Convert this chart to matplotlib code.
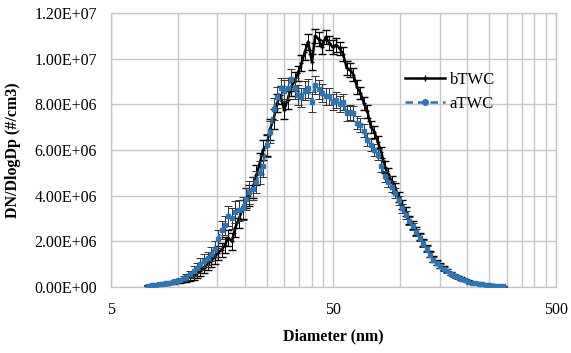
import matplotlib
matplotlib.use("Agg")
import matplotlib.pyplot as plt
from matplotlib.lines import Line2D
from matplotlib.ticker import FixedLocator, NullFormatter, FuncFormatter
import numpy as np

# particle diameters (nm), SMPS channels
diameter = [7.37, 7.64, 7.91, 8.20, 8.51, 8.82, 9.14, 9.47, 9.82, 10.2,
            10.6, 10.9, 11.3, 11.8, 12.2, 12.6, 13.1, 13.6, 14.1, 14.6,
            15.1, 15.7, 16.3, 16.8, 17.5, 18.1, 18.8, 19.5, 20.2, 20.9,
            21.7, 22.5, 23.3, 24.1, 25.0, 25.9, 26.9, 27.9, 28.9, 30.0,
            31.1, 32.2, 33.4, 34.6, 35.9, 37.2, 38.5, 40.0, 41.4, 42.9,
            44.5, 46.1, 47.8, 49.6, 51.4, 53.3, 55.2, 57.3, 59.4, 61.5,
            63.8, 66.1, 68.5, 71.0, 73.7, 76.4, 79.1, 82.0, 85.1, 88.2,
            91.4, 94.7, 98.2, 101.8, 105.5, 109.4, 113.4, 117.6, 121.9, 126.3,
            131.0, 135.8, 140.7, 145.9, 151.2, 156.8, 162.5, 168.5, 174.7, 181.1,
            187.7, 194.6, 201.7, 209.1, 216.7, 224.7, 232.9, 241.4, 250.3, 259.5,
            269.0, 278.8, 289.0]

# dN/dlogDp in units of 1e6 #/cm3
btwc = [0.05, 0.07, 0.09, 0.11, 0.13, 0.15, 0.17, 0.20, 0.23, 0.27,
        0.31, 0.36, 0.42, 0.48, 0.60, 0.72, 0.85, 1.00, 1.15, 1.30,
        1.50, 1.62, 1.85, 2.15, 2.00, 2.60, 3.00, 3.40, 3.90, 4.00,
        4.35, 4.90, 5.40, 6.00, 6.20, 6.90, 7.35, 8.05, 8.40, 7.75,
        8.20, 8.75, 9.00, 9.35, 9.80, 10.30, 10.75, 9.85, 11.00, 10.85,
        10.50, 10.95, 10.70, 10.50, 10.60, 10.45, 10.20, 9.60, 9.50, 9.30,
        8.75, 8.50, 8.05, 7.70, 7.00, 6.80, 6.35, 5.90, 5.25, 4.95,
        4.60, 4.35, 3.95, 3.60, 3.30, 2.95, 2.70, 2.45, 2.20, 1.95,
        1.70, 1.45, 1.22, 1.08, 0.95, 0.83, 0.72, 0.60, 0.52, 0.44,
        0.37, 0.30, 0.25, 0.20, 0.17, 0.14, 0.12, 0.10, 0.08, 0.07,
        0.06, 0.05, 0.04]

atwc = [0.06, 0.08, 0.10, 0.12, 0.14, 0.16, 0.19, 0.22, 0.26, 0.30,
        0.38, 0.45, 0.55, 0.70, 0.85, 1.00, 1.15, 1.25, 1.45, 1.65,
        2.10, 2.50, 2.70, 3.10, 3.00, 3.30, 3.35, 3.45, 3.85, 4.15,
        4.30, 4.60, 5.00, 5.30, 6.20, 6.80, 7.80, 8.30, 8.70, 8.60,
        8.70, 9.10, 8.70, 8.40, 8.30, 8.60, 8.70, 8.10, 8.85, 8.65,
        8.50, 8.35, 8.35, 8.10, 8.20, 8.00, 8.10, 7.60, 7.65, 7.60,
        7.20, 7.10, 6.85, 6.45, 6.20, 6.00, 5.80, 5.30, 4.85, 4.60,
        4.40, 4.10, 3.80, 3.45, 3.15, 2.90, 2.65, 2.40, 2.15, 1.90,
        1.65, 1.42, 1.20, 1.05, 0.92, 0.80, 0.70, 0.58, 0.50, 0.42,
        0.35, 0.29, 0.24, 0.19, 0.16, 0.13, 0.11, 0.09, 0.075, 0.065,
        0.055, 0.045, 0.04]

btwc_err = [0.02, 0.03, 0.03, 0.04, 0.04, 0.05, 0.05, 0.06, 0.07, 0.08,
            0.10, 0.12, 0.15, 0.18, 0.20, 0.22, 0.25, 0.25, 0.28, 0.30,
            0.30, 0.32, 0.35, 0.35, 0.38, 0.40, 0.40, 0.42, 0.42, 0.45,
            0.45, 0.45, 0.45, 0.45, 0.45, 0.45, 0.45, 0.40, 0.40, 0.40,
            0.40, 0.40, 0.40, 0.35, 0.35, 0.35, 0.35, 0.35, 0.30, 0.30,
            0.30, 0.30, 0.30, 0.30, 0.30, 0.30, 0.30, 0.30, 0.30, 0.30,
            0.30, 0.28, 0.28, 0.28, 0.26, 0.26, 0.26, 0.25, 0.25, 0.24,
            0.24, 0.22, 0.22, 0.20, 0.20, 0.18, 0.18, 0.16, 0.16, 0.15,
            0.14, 0.13, 0.12, 0.11, 0.10, 0.09, 0.08, 0.07, 0.06, 0.06,
            0.05, 0.05, 0.04, 0.04, 0.03, 0.03, 0.03, 0.02, 0.02, 0.02,
            0.02, 0.02, 0.02]

atwc_err = [0.02, 0.03, 0.03, 0.04, 0.04, 0.05, 0.05, 0.06, 0.07, 0.09,
            0.11, 0.14, 0.17, 0.20, 0.22, 0.25, 0.28, 0.30, 0.32, 0.35,
            0.38, 0.40, 0.42, 0.45, 0.45, 0.48, 0.48, 0.50, 0.50, 0.50,
            0.50, 0.50, 0.50, 0.50, 0.50, 0.48, 0.48, 0.45, 0.45, 0.45,
            0.45, 0.45, 0.45, 0.45, 0.42, 0.42, 0.42, 0.45, 0.40, 0.40,
            0.38, 0.38, 0.38, 0.35, 0.35, 0.35, 0.35, 0.32, 0.32, 0.32,
            0.30, 0.30, 0.28, 0.28, 0.26, 0.26, 0.25, 0.25, 0.24, 0.24,
            0.22, 0.22, 0.20, 0.20, 0.18, 0.18, 0.16, 0.16, 0.15, 0.14,
            0.13, 0.12, 0.11, 0.10, 0.09, 0.08, 0.07, 0.06, 0.06, 0.05,
            0.05, 0.04, 0.04, 0.03, 0.03, 0.03, 0.02, 0.02, 0.02, 0.02,
            0.02, 0.02, 0.02]

x_major = [5, 50, 500]
y_ticks = [0, 2e6, 4e6, 6e6, 8e6, 1e7, 1.2e7]

BLUE = '#2e75b6'

plt.rcParams['font.family'] = ['Liberation Serif', 'DejaVu Serif']

fig = plt.figure(figsize=(5.71, 3.53), dpi=100)
ax = fig.add_axes([0.1944, 0.187, 0.7793, 0.7762])

d = np.array(diameter)
ax.errorbar(d, np.array(btwc) * 1e6, yerr=np.array(btwc_err) * 1e6,
            color='black', lw=1.8, marker='+', ms=3, mew=1,
            ecolor='black', elinewidth=0.7, capsize=3, capthick=0.7,
            zorder=3)
ax.errorbar(d, np.array(atwc) * 1e6, yerr=np.array(atwc_err) * 1e6,
            color=BLUE, lw=1.8, ls=(0, (3, 2)), marker='s', ms=3.5,
            ecolor='#333333', elinewidth=0.7, capsize=3, capthick=0.7,
            zorder=4)

ax.set_xscale('log')
ax.set_xlim(5, 500)
ax.set_ylim(0, 1.2e7)
ax.xaxis.set_major_locator(FixedLocator(x_major))
ax.xaxis.set_major_formatter(FuncFormatter(lambda v, p: '%g' % v))
minors = [5 * k for k in range(2, 10)] + [50 * k for k in range(2, 10)]
ax.xaxis.set_minor_locator(FixedLocator(minors))
ax.xaxis.set_minor_formatter(NullFormatter())
ax.set_yticks(y_ticks)
ax.yaxis.set_major_formatter(FuncFormatter(lambda v, p: '%.2E' % v))

ax.grid(True, which='both', color='#c6c6c6', lw=1.0)
ax.set_axisbelow(True)
for s in ax.spines.values():
    s.set_color('#c6c6c6')
    s.set_linewidth(1.0)
ax.tick_params(which='both', length=0, labelsize=11.5, pad=10)
ax.tick_params(axis='x', pad=11)

ax.set_xlabel('Diameter (nm)', fontsize=11.5, fontweight='bold', labelpad=7)
ax.set_ylabel('DN/DlogDp (#/cm3)', fontsize=11.5, fontweight='bold', labelpad=10)

handles = [Line2D([], [], color='black', lw=1.8, marker='+', ms=4, mew=1),
           Line2D([], [], color=BLUE, lw=1.8, ls=(0, (3, 2)), marker='o', ms=4)]
ax.legend(handles, ['bTWC', 'aTWC'], loc='upper left',
          bbox_to_anchor=(0.645, 0.81), frameon=False,
          fontsize=12, handlelength=2.4, labelspacing=0.5, handletextpad=0.3,
          borderaxespad=0)

fig.savefig('out.png', dpi=100)
